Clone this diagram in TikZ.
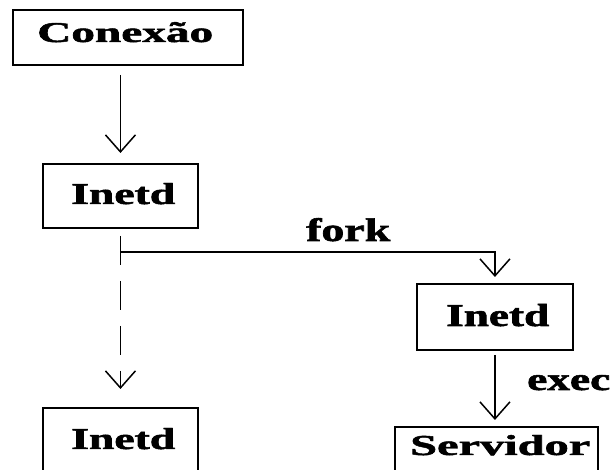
\documentclass[tikz,border=0pt]{standalone}
\usepackage{fontspec}
\usepackage{graphicx}
\setmainfont{Liberation Serif}
\newfontfamily\heavyserif[FakeBold=1.6]{Liberation Serif Bold}
\usetikzlibrary{arrows.meta}

% stretched heavy label: width, height (in pt), text
\newcommand\fitlbl[3]{\resizebox{#1pt}{#2pt}{\heavyserif #3}}

\begin{document}
\begin{tikzpicture}[x=1pt,y=-1pt,
  procbox/.style={draw, line width=1.9pt, inner sep=0pt, anchor=north west},
  lbl/.style={inner sep=0pt, anchor=base west},
  conn/.style={line width=1.6pt},
  arr/.style={conn, -{Straight Barb[length=17pt,width=30pt,line width=1.5pt]}}]

  \useasboundingbox (0,0) rectangle (614,470);
  \clip (0,0) rectangle (614,470);
  \fill[white] (0,0) rectangle (614,470);

  % process boxes
  \node[procbox, minimum width=230pt, minimum height=55pt] (conx) at (12,9) {};
  \node[procbox, minimum width=155pt, minimum height=64pt] (in1)  at (42,163) {};
  \node[procbox, minimum width=156pt, minimum height=66pt] (in2)  at (416,283) {};
  \node[procbox, minimum width=155pt, minimum height=90pt] (in3)  at (42,407) {};
  \node[procbox, minimum width=203pt, minimum height=70pt] (serv) at (394,426) {};

  % box texts
  \node[lbl] (tconx) at (37,42)   {\fitlbl{176}{20}{Conexão}};
  \node[lbl] (tin1)  at (71,204)  {\fitlbl{104}{21}{Inetd}};
  \node[lbl] (tin2)  at (446,326) {\fitlbl{103}{22}{Inetd}};
  \node[lbl] (tin3)  at (71,449)  {\fitlbl{104}{21}{Inetd}};
  \node[lbl] (tserv) at (410,455) {\fitlbl{180}{20}{Servidor}};

  % connector labels
  \node[lbl] (tfork) at (306,241) {\fitlbl{84}{23}{fork}};
  \node[lbl] (texec) at (527,390) {\fitlbl{83}{15}{exec}};

  % connection -> inetd
  \draw[arr, shorten <=9pt, shorten >=10pt] (in1.north |- conx.south) -- (in1.north);

  % fork branch
  \coordinate (split) at (in1.south |- 0,252);
  \draw[arr, dash pattern=on 29pt off 16pt, shorten <=7pt, shorten >=18pt]
    (in1.south) -- (in3.north);
  \draw[arr, shorten >=6pt] (split) -| (in2.north);

  % exec
  \draw[arr, shorten <=4pt, shorten >=6pt] (in2.south) -- (in2.south |- serv.north);
\end{tikzpicture}
\end{document}
